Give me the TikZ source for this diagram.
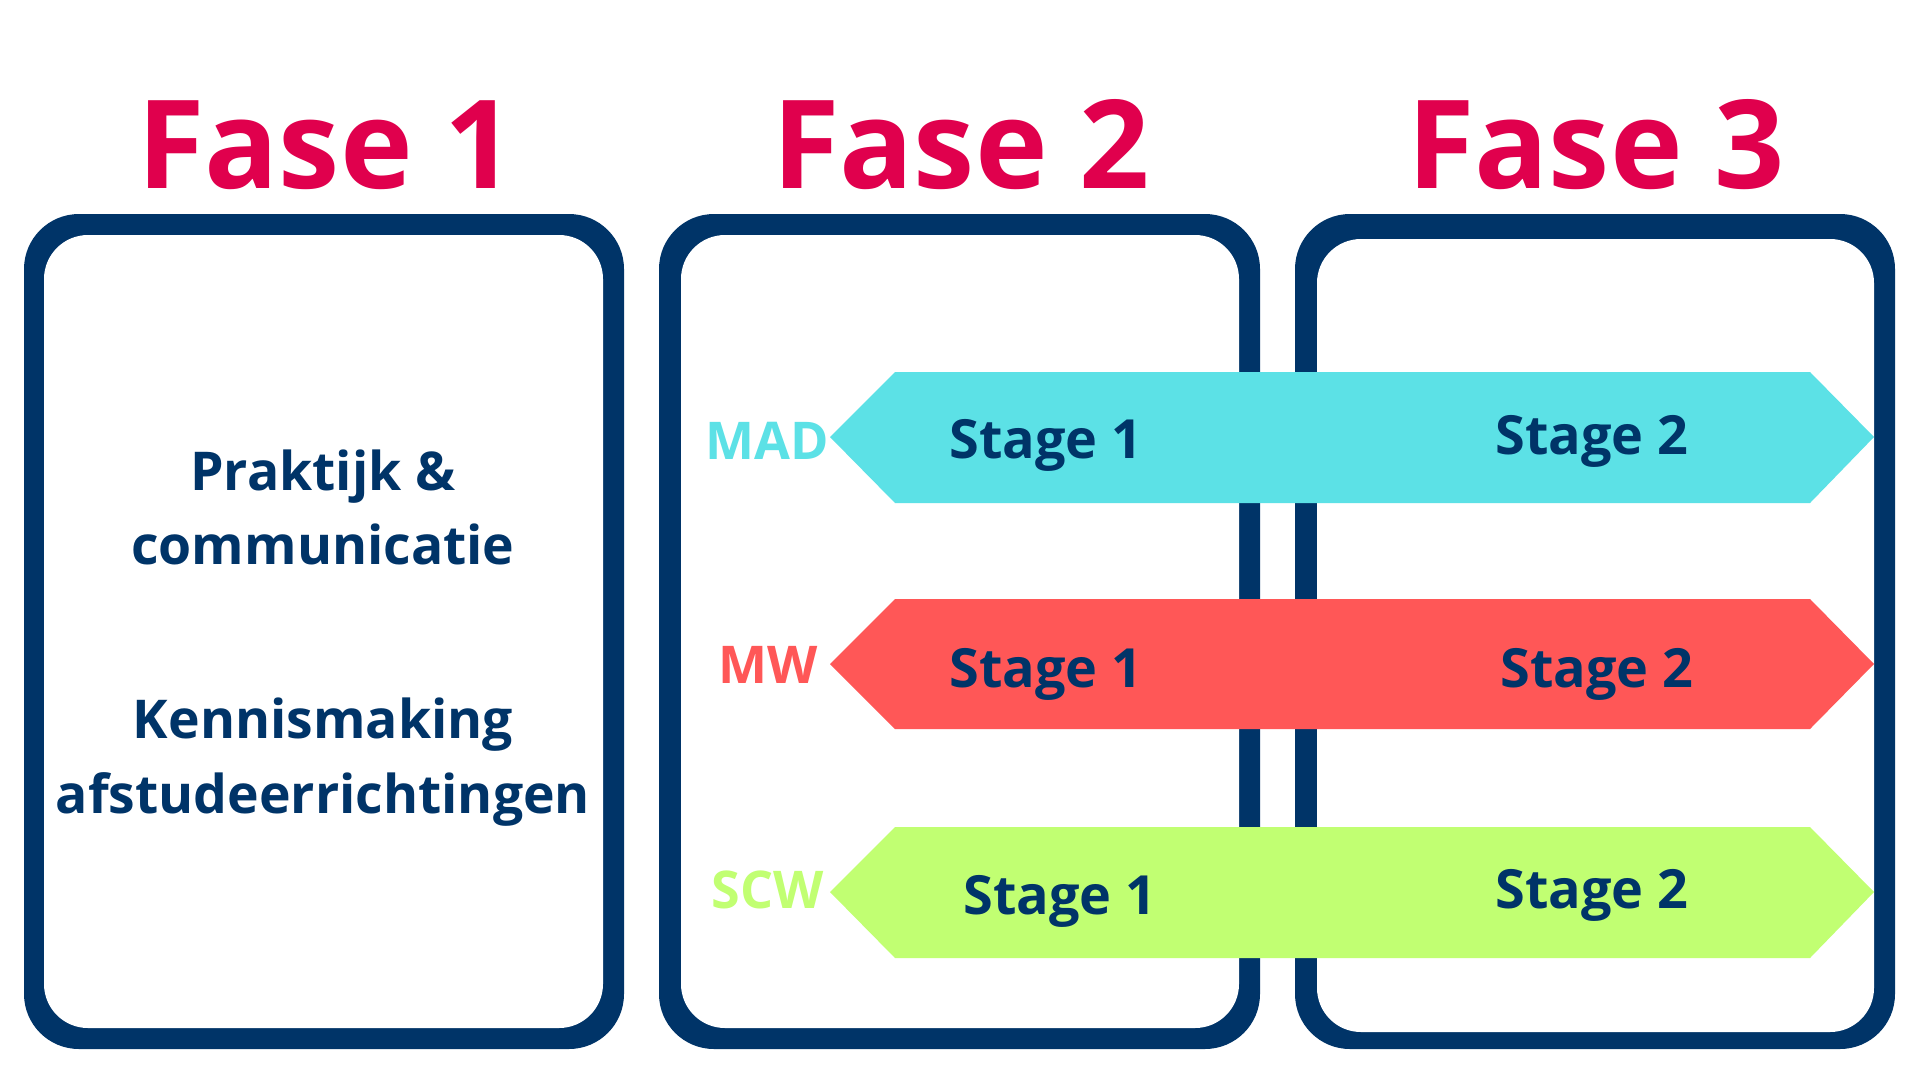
\documentclass[tikz,border=0pt]{standalone}
\usepackage{fontspec}
\setmainfont{Open Sans}
\definecolor{navy}{HTML}{003468}
\definecolor{fasepink}{HTML}{E0004D}
\definecolor{madcyan}{HTML}{5CE1E6}
\definecolor{mwred}{HTML}{FF5757}
\definecolor{scwgreen}{HTML}{C1FF72}
\begin{document}
\begin{tikzpicture}[x=1pt,y=-1pt,
  title/.style={anchor=base,inner sep=0pt,text=fasepink,font=\fontsize{123}{130}\selectfont\bfseries},
  boxtext/.style={anchor=base,inner sep=0pt,text=navy,font=\fontsize{53.5}{60}\selectfont\bfseries},
  stagetext/.style={anchor=base,inner sep=0pt,text=navy,font=\fontsize{54}{60}\selectfont\bfseries},
  lbl/.style={anchor=base,inner sep=0pt,font=\fontsize{52}{60}\selectfont\bfseries},
  outerbox/.style={fill=navy,rounded corners=55pt},
  innerbox/.style={fill=white,rounded corners=44pt}]
\useasboundingbox (0,0) rectangle (1920,1080);
\fill[white] (0,0) rectangle (1920,1080);
% boxes
\fill[outerbox] (24,214) rectangle (624,1049);
\fill[innerbox] (44,235) rectangle (603,1028);
\fill[outerbox] (659,214) rectangle (1260,1049);
\fill[innerbox] (681,235) rectangle (1239,1028);
\fill[outerbox] (1295,214) rectangle (1895,1049);
\fill[innerbox] (1317,239) rectangle (1874,1032);
% titles
\node[title] (f1) at (326,188) {Fase 1};
\node[title] (f2) at (961,188) {Fase 2};
\node[title] (f3) at (1596,188) {Fase 3};
% box 1 text
\node[boxtext] (t1) at (323,490) {Praktijk \&};
\node[boxtext] (t2) at (323,564) {communicatie};
\node[boxtext] (t3) at (323,738) {Kennismaking};
\node[boxtext] (t4) at (323,813) {afstudeerrichtingen};
% bands
\fill[madcyan] (830,437) -- (895,372) -- (1810,372) -- (1874,437) -- (1810,503) -- (895,503) -- cycle;
\fill[mwred] (830,664) -- (895,599) -- (1810,599) -- (1874,664) -- (1810,729) -- (895,729) -- cycle;
\fill[scwgreen] (830,892) -- (895,827) -- (1810,827) -- (1874,892) -- (1810,958) -- (895,958) -- cycle;
% labels
\node[lbl,text=madcyan] (mad) at (767,459) {MAD};
\node[lbl,text=mwred] (mw) at (768,683) {MW};
\node[lbl,text=scwgreen] (scw) at (768,908) {SCW};
% stages
\node[stagetext] (m1) at (1046,458) {Stage 1};
\node[stagetext] (m2) at (1592,454) {Stage 2};
\node[stagetext] (w1) at (1046,687) {Stage 1};
\node[stagetext] (w2) at (1597,687) {Stage 2};
\node[stagetext] (s1) at (1060,914) {Stage 1};
\node[stagetext] (s2) at (1592,908) {Stage 2};
\end{tikzpicture}
\end{document}
